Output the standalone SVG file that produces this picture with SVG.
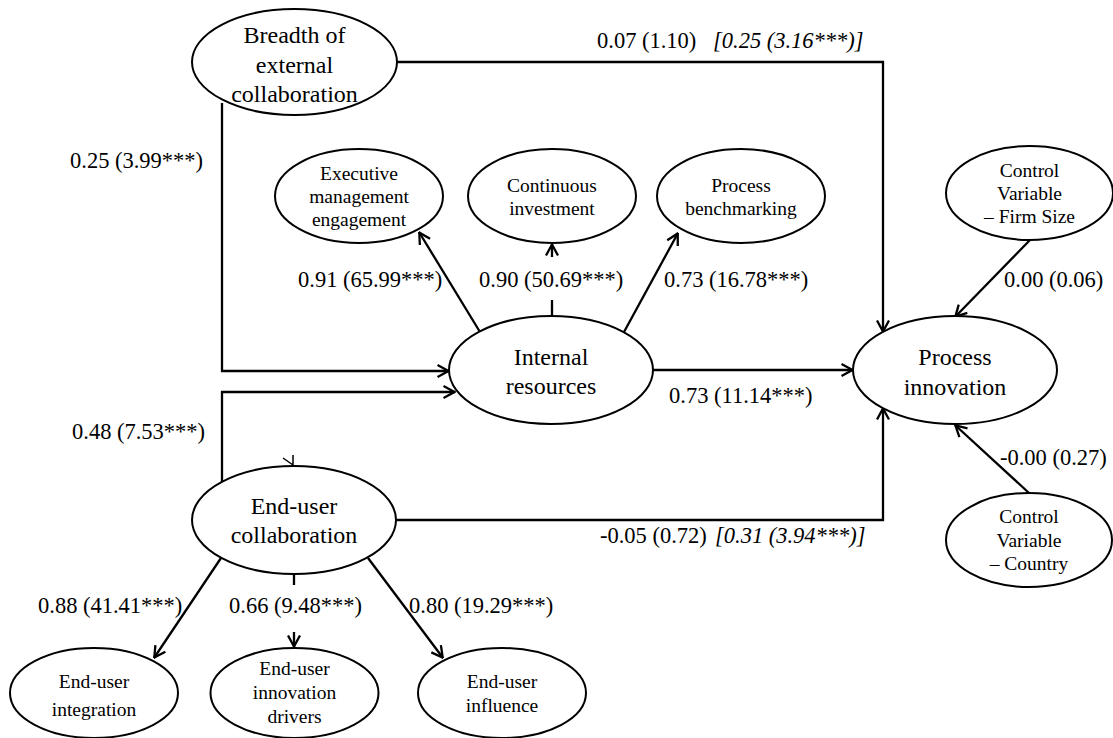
<svg xmlns="http://www.w3.org/2000/svg" width="1113" height="738" viewBox="0 0 1113 738">
<defs>
<style>
.n{fill:#fff;stroke:#000;stroke-width:2}
.c{fill:none;stroke:#000;stroke-width:2.3}
.L{font-family:"Liberation Serif","Times New Roman",serif;font-size:24px;text-anchor:middle;fill:#000}
.S{font-family:"Liberation Serif","Times New Roman",serif;font-size:19.5px;text-anchor:middle;fill:#000}
.t{font-family:"Liberation Serif","Times New Roman",serif;font-size:22.5px;fill:#000}
.i{font-style:italic}
</style>
<marker id="arr" viewBox="0 0 13 14" refX="12.5" refY="7" markerWidth="13" markerHeight="14" orient="auto" markerUnits="userSpaceOnUse">
<path d="M1,1 L12,7 L1,13" fill="none" stroke="#000" stroke-width="2.3"/>
</marker>
</defs>
<rect width="1113" height="738" fill="#fff"/>
<g id="connectors">
<path class="c" d="M397,62 H883 V332" marker-end="url(#arr)"/>
<path class="c" d="M222,103 V371 H449" marker-end="url(#arr)"/>
<path class="c" d="M222,482 V392 H455" marker-end="url(#arr)"/>
<path class="c" d="M480,332 L419,232" marker-end="url(#arr)"/>
<path class="c" d="M552,317 V300 M552,257 V244" marker-end="url(#arr)"/>
<path class="c" d="M624,332 L678,233" marker-end="url(#arr)"/>
<path class="c" d="M653,370 H853" marker-end="url(#arr)"/>
<path class="c" d="M396,520 H883 V408" marker-end="url(#arr)"/>
<path class="c" d="M1030,240 L955,317" marker-end="url(#arr)"/>
<path class="c" d="M1029,493 L955,425" marker-end="url(#arr)"/>
<path class="c" d="M221,558 L154,658" marker-end="url(#arr)"/>
<path class="c" d="M294,574 V585 M294,632 V647" marker-end="url(#arr)"/>
<path class="c" d="M368,558 L443,658" marker-end="url(#arr)"/>
<path d="M283,458 L293,465 M293,455 V466" fill="none" stroke="#000" stroke-width="1.5"/>
</g>
<g id="labels">
<text class="t" x="597" y="48">0.07 (1.10)<tspan class="i" x="713">[0.25 (3.16***)]</tspan></text>
<text class="t" x="70" y="168">0.25 (3.99***)</text>
<text class="t" x="298" y="287">0.91 (65.99***)</text>
<text class="t" x="479" y="287">0.90 (50.69***)</text>
<text class="t" x="664" y="287">0.73 (16.78***)</text>
<text class="t" x="1004" y="287">0.00 (0.06)</text>
<text class="t" x="669" y="403">0.73 (11.14***)</text>
<text class="t" x="72" y="439">0.48 (7.53***)</text>
<text class="t" x="1000" y="465">-0.00 (0.27)</text>
<text class="t" x="600" y="543">-0.05 (0.72) <tspan class="i" x="715">[0.31 (3.94***)]</tspan></text>
<text class="t" x="38" y="613">0.88 (41.41***)</text>
<text class="t" x="229" y="613">0.66 (9.48***)</text>
<text class="t" x="409" y="613">0.80 (19.29***)</text>
</g>
<g id="breadth">
<ellipse class="n" cx="294.5" cy="62" rx="102.5" ry="53"/>
<text class="L" x="294.5" y="43">Breadth of</text>
<text class="L" x="294.5" y="72.5">external</text>
<text class="L" x="294.5" y="102">collaboration</text>
</g>
<g id="executive">
<ellipse class="n" cx="359" cy="196" rx="84" ry="47"/>
<text class="S" x="359" y="180">Executive</text>
<text class="S" x="359" y="203">management</text>
<text class="S" x="359" y="226">engagement</text>
</g>
<g id="continuous">
<ellipse class="n" cx="552" cy="196" rx="84" ry="47"/>
<text class="S" x="552" y="192">Continuous</text>
<text class="S" x="552" y="215">investment</text>
</g>
<g id="benchmarking">
<ellipse class="n" cx="741" cy="196" rx="84" ry="47"/>
<text class="S" x="741" y="192">Process</text>
<text class="S" x="741" y="215">benchmarking</text>
</g>
<g id="firmsize">
<ellipse class="n" cx="1029.5" cy="193" rx="83.5" ry="47"/>
<text class="S" x="1029.5" y="177">Control</text>
<text class="S" x="1029.5" y="200">Variable</text>
<text class="S" x="1029.5" y="223">– Firm Size</text>
</g>
<g id="internal">
<ellipse class="n" cx="551" cy="370" rx="102" ry="54"/>
<text class="L" x="551" y="365">Internal</text>
<text class="L" x="551" y="394">resources</text>
</g>
<g id="process">
<ellipse class="n" cx="955" cy="370" rx="102" ry="54"/>
<text class="L" x="955" y="365">Process</text>
<text class="L" x="955" y="395">innovation</text>
</g>
<g id="enduser">
<ellipse class="n" cx="294" cy="520" rx="102" ry="54"/>
<text class="L" x="294" y="514">End-user</text>
<text class="L" x="294" y="543">collaboration</text>
</g>
<g id="country">
<ellipse class="n" cx="1029" cy="540" rx="83" ry="47"/>
<text class="S" x="1029" y="523">Control</text>
<text class="S" x="1029" y="547">Variable</text>
<text class="S" x="1029" y="570">– Country</text>
</g>
<g id="integration">
<ellipse class="n" cx="94" cy="693" rx="84" ry="45"/>
<text class="S" x="94" y="688">End-user</text>
<text class="S" x="94" y="716">integration</text>
</g>
<g id="drivers">
<ellipse class="n" cx="294.5" cy="693" rx="84" ry="45"/>
<text class="S" x="294.5" y="675">End-user</text>
<text class="S" x="294.5" y="699">innovation</text>
<text class="S" x="294.5" y="723">drivers</text>
</g>
<g id="influence">
<ellipse class="n" cx="502" cy="693" rx="84" ry="45"/>
<text class="S" x="502" y="688">End-user</text>
<text class="S" x="502" y="712">influence</text>
</g>
</svg>
